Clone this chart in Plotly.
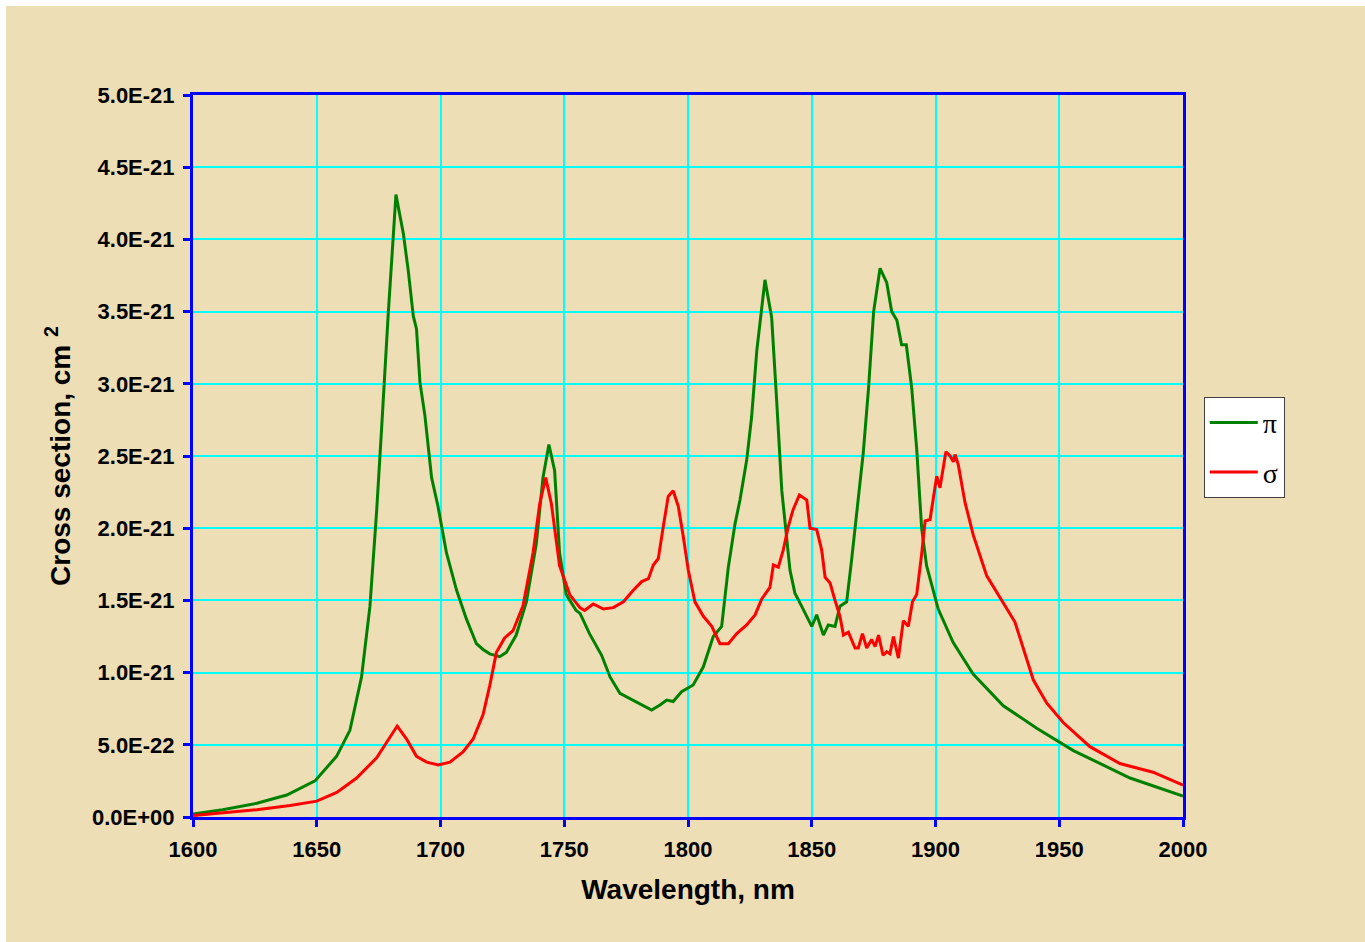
import plotly.graph_objects as go

# ---- data (cross sections in units of 1e-21 cm^2) ----
wl_pi = [1600, 1612, 1625.8, 1637.9, 1649.3, 1658, 1663.4, 1668.1, 1671.5, 1674.2, 1676.2, 1678.9,
         1682, 1683.3, 1685, 1687, 1689, 1690.3, 1691.7, 1693.7, 1696.4, 1699, 1702.4, 1706.5,
         1710.5, 1714.5, 1717.2, 1719.9, 1723.9, 1726.6, 1730.6, 1734.7, 1738.7, 1741.4, 1743.8,
         1746.1, 1748.1, 1750.8, 1754.8, 1756.4, 1760.2, 1765.1, 1768.5, 1772.5, 1777.9, 1781.9,
         1785.3, 1788.7, 1791.4, 1794, 1797.4, 1802.1, 1806.2, 1810.2, 1813.6, 1816.3, 1819,
         1821, 1823.7, 1825.7, 1827.8, 1831.1, 1833.8, 1835.8, 1837.9, 1841.2, 1843.2, 1845.9,
         1847.9, 1850, 1852, 1854.7, 1856.7, 1859.4, 1861.4, 1864.1, 1866.1, 1868.2, 1870.8,
         1872.9, 1875, 1877.6, 1880.3, 1882.3, 1884.4, 1886.3, 1888.2, 1890.4, 1892.4, 1894.4,
         1896.4, 1901.1, 1907.1, 1915.2, 1927.4, 1940.9, 1955.7, 1978.6, 2000]
cs_pi = [0.02, 0.05, 0.095, 0.152, 0.25, 0.42, 0.60, 0.97, 1.46, 2.12, 2.69, 3.49,
         4.31, 4.18, 4.04, 3.78, 3.47, 3.38, 3.01, 2.78, 2.35, 2.15, 1.83, 1.57,
         1.37, 1.20, 1.16, 1.13, 1.11, 1.14, 1.26, 1.49, 1.89, 2.35, 2.58,
         2.40, 1.83, 1.54, 1.43, 1.41, 1.27, 1.12, 0.97, 0.857, 0.81, 0.776,
         0.741, 0.776, 0.81, 0.80, 0.868, 0.914, 1.04, 1.25, 1.32, 1.73, 2.03,
         2.195, 2.47, 2.77, 3.23, 3.72, 3.46, 2.89, 2.26, 1.71, 1.55, 1.46,
         1.39, 1.32, 1.40, 1.26, 1.33, 1.32, 1.46, 1.49, 1.78, 2.10, 2.52,
         2.96, 3.50, 3.80, 3.70, 3.50, 3.44, 3.27, 3.27, 2.97, 2.55, 2.0,
         1.74, 1.44, 1.21, 0.99, 0.77, 0.615, 0.46, 0.27, 0.145]

wl_sigma = [1600, 1625.8, 1639.2, 1650, 1658.1, 1666.1, 1674.2, 1678.9, 1682.5, 1686.3, 1690.3,
            1694.4, 1699.1, 1703.8, 1709.1, 1713.2, 1717.2, 1719.9, 1722.6, 1725.9, 1729.3,
            1733.3, 1737.4, 1740.1, 1742.5, 1744.8, 1748.1, 1752.2, 1756.3, 1758.2, 1761.7,
            1765.8, 1769.8, 1773.9, 1777.9, 1781.3, 1784, 1786, 1788, 1790, 1792, 1794, 1796.1,
            1798.1, 1800.1, 1802.8, 1806.2, 1809.6, 1812.9, 1816.3, 1819.7, 1823.7, 1827.1,
            1829.8, 1833.1, 1834.5, 1836.5, 1838.5, 1840.5, 1842.5, 1845, 1848, 1849.3, 1852,
            1854, 1855.4, 1857.4, 1859.4, 1861.4, 1862.8, 1864.8, 1867.5, 1868.8, 1870.5,
            1872.2, 1874.2, 1875.6, 1877, 1878.8, 1880.3, 1881.6, 1883, 1885, 1887, 1889,
            1890.7, 1892.4, 1894.4, 1895.8, 1897.8, 1900.5, 1901.8, 1904.2, 1905.9, 1907.2,
            1907.9, 1909.2, 1911.9, 1915.3, 1920.7, 1924.7, 1932.1, 1939.5, 1944.9, 1951.6,
            1962.4, 1974.5, 1987.9, 2000]
cs_sigma = [0.01, 0.05, 0.08, 0.11, 0.17, 0.27, 0.41, 0.54, 0.63, 0.54, 0.42,
            0.38, 0.36, 0.38, 0.45, 0.54, 0.71, 0.91, 1.14, 1.24, 1.29,
            1.46, 1.83, 2.17, 2.35, 2.17, 1.74, 1.54, 1.45, 1.43, 1.475,
            1.44, 1.45, 1.49, 1.57, 1.63, 1.65, 1.745, 1.79, 2.01, 2.22, 2.26, 2.15,
            1.94, 1.71, 1.49, 1.39, 1.32, 1.20, 1.20, 1.27, 1.33, 1.40,
            1.51, 1.59, 1.745, 1.73, 1.85, 2.01, 2.13, 2.23, 2.195, 2.0, 1.99,
            1.85, 1.66, 1.62, 1.50, 1.39, 1.26, 1.28, 1.17, 1.17, 1.27,
            1.17, 1.23, 1.18, 1.26, 1.12, 1.145, 1.13, 1.25, 1.10, 1.36, 1.32,
            1.49, 1.54, 1.82, 2.05, 2.06, 2.36, 2.28, 2.53, 2.50, 2.46,
            2.51, 2.44, 2.18, 1.95, 1.67, 1.56, 1.35, 0.95, 0.79, 0.654,
            0.487, 0.37, 0.31, 0.22]

unit = 1e-21
y_tickvals = [0, 0.5, 1.0, 1.5, 2.0, 2.5, 3.0, 3.5, 4.0, 4.5, 5.0]
y_ticktext = ["0.0E+00", "5.0E-22", "1.0E-21", "1.5E-21", "2.0E-21", "2.5E-21",
              "3.0E-21", "3.5E-21", "4.0E-21", "4.5E-21", "5.0E-21"]
x_tickvals = [1600, 1650, 1700, 1750, 1800, 1850, 1900, 1950, 2000]

fig = go.Figure()
fig.add_trace(go.Scatter(x=wl_pi, y=[v * unit for v in cs_pi], mode="lines", name="π",
                         legendgroup="a", line=dict(color="#008000", width=3)))
fig.add_trace(go.Scatter(x=wl_sigma, y=[v * unit for v in cs_sigma], mode="lines", name="σ",
                         legendgroup="b", line=dict(color="#FF0000", width=3)))

BEIGE = "#EEDEB6"
# thin white strips at the top and left edges of the page
fig.add_shape(type="rect", xref="paper", yref="paper", layer="below",
              x0=(-20 - 193) / 990, x1=(6 - 193) / 990, y0=-0.5, y1=1.5,
              fillcolor="white", line=dict(width=0))
fig.add_shape(type="rect", xref="paper", yref="paper", layer="below",
              x0=-0.5, x1=1.5, y0=(817 - 6) / 722, y1=(817 + 20) / 722,
              fillcolor="white", line=dict(width=0))

sans = "Liberation Sans, Arial, sans-serif"
tick_font = dict(family=sans, size=22, color="black", weight="bold")
title_font = dict(family=sans, size=28, color="black")

fig.update_layout(
    width=1365, height=942,
    margin=dict(l=193, r=182, t=95, b=125),
    paper_bgcolor=BEIGE,
    plot_bgcolor="rgba(0,0,0,0)",
    showlegend=True,
    legend=dict(x=1.021, y=0.582, xanchor="left", yanchor="top",
                bgcolor="white", bordercolor="#404040", borderwidth=1,
                font=dict(family="Liberation Serif, Times New Roman, serif", size=28, color="black"),
                itemwidth=48, tracegroupgap=10, traceorder="grouped"),
    xaxis=dict(range=[1600, 2000], tickvals=x_tickvals,
               showline=True, linecolor="#0000FF", linewidth=3, mirror=True,
               ticks="outside", ticklen=7, tickwidth=3, tickcolor="#0000FF",
               ticklabelstandoff=4,
               showgrid=True, gridcolor="#00FFFF", gridwidth=2, zeroline=False,
               tickfont=tick_font,
               title=dict(text="<b>Wavelength, nm</b>", standoff=18, font=title_font)),
    yaxis=dict(range=[0, 5 * unit], tickvals=[v * unit for v in y_tickvals], ticktext=y_ticktext,
               showline=True, linecolor="#0000FF", linewidth=3, mirror=True,
               ticks="outside", ticklen=7, tickwidth=3, tickcolor="#0000FF",
               ticklabelstandoff=4,
               showgrid=True, gridcolor="#00FFFF", gridwidth=2, zeroline=False,
               tickfont=tick_font,
               title=dict(text="<b>Cross section, cm <sup>2</sup></b>", standoff=14, font=title_font)),
)

fig.write_html("out.html", config={"displayModeBar": False},
               post_script="document.body.style.margin='0';document.body.style.overflow='hidden';"
                           "document.body.style.background='" + BEIGE + "';")
